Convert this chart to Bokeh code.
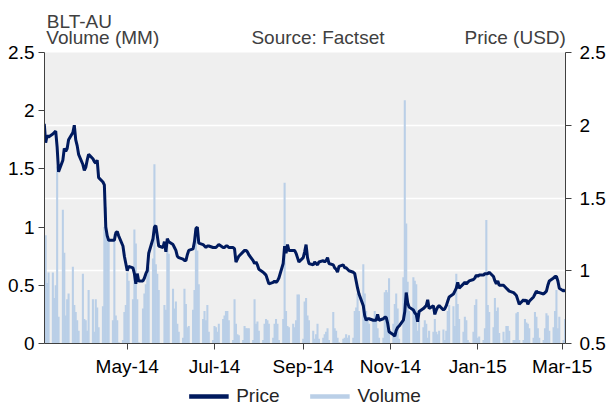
import pandas as pd
from bokeh.plotting import figure
from bokeh.layouts import column
from bokeh.models import (Range1d, LinearAxis, FixedTicker, CustomJSTickFormatter,
                          Legend, LegendItem, ColumnDataSource)
from bokeh.embed import file_html
from bokeh.resources import INLINE

# ---------------- data ----------------
start_date = "2014-03-04"
end_date = "2015-03-03"

volume = [
    0.44, 0.93, 0.52, 0.61, 0.61, 0.39, 0.5, 1.52, 0.23, 1.15,
    0.78, 0.24, 0.38, 0.43, 0.66, 0.33, 0.27, 0.2, 0.11, 0.6,
    0.21, 0.2, 0.11, 0.46, 0.38, 0.1, 0.38, 0.31, 0.14, 0.32,
    1.0, 1.17, 0.89, 0.89, 0.2, 0.94, 0.24, 0.2, 0.01, 0.03,
    0.27, 0.33, 0.61, 0.54, 0.38, 0.98, 0.86, 0.38, 0.01, 0.3,
    0.43, 0.51, 0.6, 0.66, 0.73, 1.54, 0.68, 0.6, 0.46, 0.0,
    0.33, 0.29, 0.86, 0.77, 0.47, 0.3, 0.36, 0.17, 0.1, 0.05,
    0.47, 0.34, 0.14, 0.15, 0.29, 0.46, 1.0, 0.8, 0.51, 0.21,
    0.28, 0.2, 0.33, 0.1, 0.03, 0.15, 0.14, 0.1, 0.17, 0.21,
    0.24, 0.28, 0.28, 0.2, 0.03, 0.38, 0.17, 0.08, 0.07, 0.03,
    0.15, 0.13, 0.13, 0.13, 0.03, 0.38, 0.17, 0.19, 0.11, 0.03,
    0.17, 0.21, 0.2, 0.17, 0.05, 0.17, 0.21, 0.17, 0.03, 0.21,
    1.38, 0.28, 0.15, 0.14, 0.17, 0.14, 0.2, 0.42, 0.42, 0.04,
    0.36, 0.39, 0.24, 0.2, 0.11, 0.04, 0.08, 0.17, 0.04, 0.05,
    0.08, 0.1, 0.13, 0.03, 0.27, 0.13, 0.11, 0.05, 0.01, 0.04,
    0.05, 0.08, 0.05, 0.07, 0.05, 0.28, 0.31, 0.43, 0.28, 0.68,
    0.43, 0.28, 0.2, 0.17, 0.2, 0.28, 0.2, 0.13, 0.05, 0.05,
    0.44, 0.46, 0.44, 0.56, 0.17, 0.34, 0.43, 0.3, 0.04, 0.57,
    2.09, 1.03, 0.53, 0.28, 0.57, 0.54, 0.51, 0.11, 0.2, 0.14,
    0.2, 0.17, 0.05, 0.11, 0.1, 0.21, 0.1, 0.08, 0.11, 0.12,
    0.03, 0.11, 0.28, 0.33, 0.32, 0.15, 0.6, 0.34, 0.21, 0.1,
    0.23, 0.2, 0.03, 0.01, 0.1, 0.33, 0.38, 0.05, 0.06, 0.03,
    0.13, 1.06, 0.33, 0.27, 0.14, 0.39, 0.28, 0.31, 0.09, 0.1,
    0.03, 0.15, 0.15, 0.11, 0.03, 0.03, 0.26, 0.27, 0.03, 0.03,
    0.21, 0.18, 0.17, 0.13, 0.05, 0.27, 0.23, 0.13, 0.05, 0.03,
    0.13, 0.26, 0.24, 0.11, 0.14, 0.28, 0.46, 0.13, 0.23, 0.03,
    0.21,
]

price = [
    2.01, 1.88, 1.93, 1.92, 1.94, 1.95, 1.96, 1.85, 1.68, 1.76,
    1.84, 1.82, 1.84, 1.9, 1.95, 2.0, 1.9, 1.86, 1.8, 1.73,
    1.69, 1.71, 1.76, 1.8, 1.77, 1.75, 1.74, 1.76, 1.64, 1.61,
    1.59, 1.3, 1.24, 1.21, 1.21, 1.21, 1.26, 1.27, 1.24, 1.17,
    1.1, 1.05, 1.0, 1.03, 1.02, 0.98, 0.91, 0.98, 0.93, 0.93,
    0.95, 0.98, 1.0, 1.12, 1.22, 1.3, 1.31, 1.24, 1.17, 1.16,
    1.2, 1.13, 1.22, 1.2, 1.18, 1.16, 1.14, 1.1, 1.09, 1.08,
    1.07, 1.07, 1.11, 1.14, 1.15, 1.2, 1.29, 1.3, 1.19, 1.18,
    1.17, 1.16, 1.17, 1.17, 1.16, 1.16, 1.16, 1.17, 1.18, 1.16,
    1.16, 1.17, 1.17, 1.16, 1.16, 1.15, 1.06, 1.08, 1.1, 1.13,
    1.14, 1.14, 1.13, 1.11, 1.07, 1.05, 1.06, 1.04, 1.01, 0.99,
    0.98, 0.97, 0.94, 0.91, 0.92, 0.93, 0.92, 0.93, 0.95, 1.05,
    1.17, 1.12, 1.18, 1.14, 1.14, 1.14, 1.12, 1.09, 1.06, 1.09,
    1.13, 1.18, 1.09, 1.05, 1.04, 1.06, 1.05, 1.04, 1.06, 1.07,
    1.06, 1.07, 1.09, 1.05, 1.04, 1.02, 1.01, 0.99, 1.03, 1.04,
    1.02, 1.02, 1.01, 1.0, 0.99, 0.98, 0.93, 0.88, 0.84, 0.76,
    0.69, 0.66, 0.67, 0.67, 0.66, 0.66, 0.66, 0.7, 0.66, 0.67,
    0.68, 0.68, 0.64, 0.58, 0.56, 0.55, 0.59, 0.61, 0.62, 0.66,
    0.72, 0.85, 0.78, 0.75, 0.73, 0.71, 0.7, 0.65, 0.72, 0.74,
    0.75, 0.76, 0.8, 0.74, 0.76, 0.7, 0.73, 0.75, 0.76, 0.73,
    0.74, 0.76, 0.79, 0.82, 0.84, 0.86, 0.88, 0.92, 0.88, 0.91,
    0.92, 0.91, 0.92, 0.93, 0.94, 0.95, 0.97, 0.96, 0.97, 0.97,
    0.98, 0.98, 0.98, 0.99, 0.96, 0.93, 0.91, 0.93, 0.9, 0.9,
    0.89, 0.88, 0.87, 0.86, 0.85, 0.84, 0.83, 0.8, 0.77, 0.8,
    0.79, 0.8, 0.77, 0.79, 0.82, 0.84, 0.86, 0.85, 0.85, 0.84,
    0.85, 0.86, 0.9, 0.93, 0.95, 0.96, 0.96, 0.93, 0.88, 0.86,
    0.87,
]

x_tick_dates = ["2014-05-01", "2014-07-01", "2014-09-01", "2014-11-01", "2015-01-01", "2015-03-01"]
x_tick_labels = ["May-14", "Jul-14", "Sep-14", "Nov-14", "Jan-15", "Mar-15"]
volume_ticks = [0, 0.5, 1, 1.5, 2, 2.5]
price_ticks = [0.5, 1, 1.5, 2, 2.5]

title_text = "BLT-AU"
header_texts = ["Volume (MM)", "Source: Factset", "Price (USD)"]
legend_labels = ["Price", "Volume"]

# ---------------- style / layout ----------------
FONT = "Liberation Sans"
NAVY = "#001a5e"
VOL = "#bacfe7"
BG = "#efefef"
AXIS = "#404040"
TXT = "#404040"
FS = "19px"
W = 608
MAIN_H = 386
LEG_H = 20
FRAME_L, FRAME_R, FRAME_T, FRAME_B = 44, 567, 52, 343

dates = pd.bdate_range(start_date, end_date)
n = min(len(dates), len(volume), len(price))
src = ColumnDataSource(dict(date=dates[:n], volume=volume[:n], price=price[:n]))

def ms(s):
    return pd.Timestamp(s).value // 10**6

x_start = ms("2014-03-04 04:00")
x_end = ms("2015-03-03 08:00")

p = figure(width=W, height=MAIN_H, x_axis_type="datetime",
           x_range=Range1d(x_start, x_end),
           y_range=Range1d(volume_ticks[0], volume_ticks[-1]),
           output_backend="svg", toolbar_location=None,
           min_border_left=FRAME_L, min_border_right=W - FRAME_R,
           min_border_top=FRAME_T, min_border_bottom=MAIN_H - FRAME_B)
p.extra_y_ranges = {"price": Range1d(price_ticks[0], price_ticks[-1])}
p.extra_x_ranges = {"hdr": Range1d(FRAME_L, FRAME_R)}
p.background_fill_color = BG
p.border_fill_color = "white"
p.outline_line_color = None

# grid: white lines at right-axis ticks
vmin, vmax = volume_ticks[0], volume_ticks[-1]
pmin, pmax = price_ticks[0], price_ticks[-1]
grid_pos = [vmin + (t - pmin) / (pmax - pmin) * (vmax - vmin) for t in price_ticks[1:-1]]
p.xgrid.grid_line_color = None
p.ygrid.ticker = FixedTicker(ticks=grid_pos)
p.ygrid.grid_line_color = "white"
p.ygrid.grid_line_width = 1.5

day_ms = 86400000
p.vbar(x="date", top="volume", width=1.45 * day_ms, source=src,
       fill_color=VOL, line_color=None)
p.line(x="date", y="price", source=src, y_range_name="price",
       line_color=NAVY, line_width=3)

def style_axis(ax):
    ax.axis_line_color = AXIS
    ax.major_tick_line_color = AXIS
    ax.minor_tick_line_color = None
    ax.major_tick_in = 0
    ax.major_tick_out = 6
    ax.major_label_text_font = FONT
    ax.major_label_text_font_size = FS
    ax.major_label_text_color = "black"

yl = p.yaxis[0]
yl.ticker = FixedTicker(ticks=volume_ticks)
yl.formatter = CustomJSTickFormatter(code="return String(tick)")
style_axis(yl)
yl.major_label_standoff = 4

yr = LinearAxis(y_range_name="price", ticker=FixedTicker(ticks=price_ticks),
                formatter=CustomJSTickFormatter(code="return String(tick)"))
style_axis(yr)
yr.major_label_standoff = 8
p.add_layout(yr, "right")

xa = p.xaxis[0]
tick_ms = [ms(d) for d in x_tick_dates]
xa.ticker = FixedTicker(ticks=tick_ms)
xa.formatter = CustomJSTickFormatter(args=dict(vals=tick_ms, labels=x_tick_labels),
                                     code="const i = vals.indexOf(tick); return i >= 0 ? labels[i] : '';")
style_axis(xa)
xa.major_label_standoff = 6

# header rows drawn as label-only axes above the frame (centre x of each text, in pixels)
def header_axis(texts, centers, standoff):
    ax = LinearAxis(x_range_name="hdr", ticker=FixedTicker(ticks=centers),
                    formatter=CustomJSTickFormatter(args=dict(vals=centers, labels=texts),
                        code="const i = vals.indexOf(tick); return i >= 0 ? labels[i] : '';"))
    ax.axis_line_color = None
    ax.major_tick_line_color = None
    ax.minor_tick_line_color = None
    ax.major_tick_in = 0
    ax.major_tick_out = 0
    ax.major_label_standoff = standoff
    ax.major_label_text_font = FONT
    ax.major_label_text_font_size = FS
    ax.major_label_text_color = TXT
    return ax

p.add_layout(header_axis(header_texts, [102.5, 318.5, 516.5], 5), "above")
p.add_layout(header_axis([title_text], [79.0], -8), "above")

# legend in its own strip below the chart
leg = figure(width=W, height=LEG_H, x_range=Range1d(0, 1), y_range=Range1d(0, 1),
             x_axis_type=None, y_axis_type=None, output_backend="svg",
             toolbar_location=None, min_border=0)
leg.outline_line_color = None
leg.background_fill_color = "white"
# legend swatch renderers: their points lie outside the strip's visible range
price_proxy = leg.line(x=[-5, -4], y=[-5, -4], line_color=NAVY, line_width=4.5)
vol_proxy = leg.line(x=[-5, -4], y=[-5, -4], line_color=VOL, line_width=4.5)
legend = Legend(items=[LegendItem(label=legend_labels[0], renderers=[price_proxy]),
                       LegendItem(label=legend_labels[1], renderers=[vol_proxy])],
                orientation="horizontal", location="center",
                border_line_color=None, background_fill_alpha=0,
                glyph_width=40, glyph_height=18, label_standoff=8, spacing=30,
                padding=0, margin=0,
                label_text_font=FONT, label_text_font_size=FS, label_text_color="#262626")
leg.add_layout(legend)

layout = column(p, leg, spacing=0)
open("out.html", "w").write(file_html(layout, INLINE))
